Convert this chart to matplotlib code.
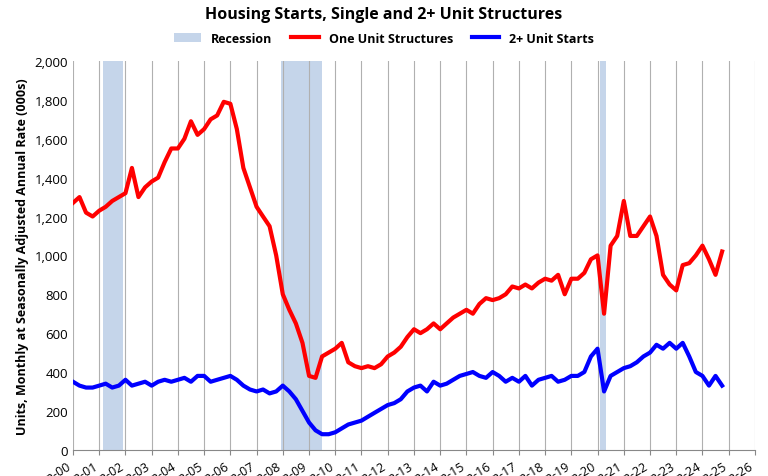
import numpy as np
import matplotlib
matplotlib.use("Agg")
import matplotlib.pyplot as plt
import matplotlib.dates as mdates
import pandas as pd

plt.rcParams['font.family'] = ['Open Sans', 'DejaVu Sans']

# quarterly readings, thousands of units (SAAR), 2000Q1 .. 2024Q4
one_unit = [1270, 1300, 1220, 1200, 1230, 1250, 1280, 1300,
            1320, 1450, 1300, 1350, 1380, 1400, 1480, 1550,
            1550, 1600, 1690, 1620, 1650, 1700, 1720, 1790,
            1780, 1650, 1450, 1350, 1250, 1200, 1150, 1000,
            800, 720, 650, 550, 380, 370, 480, 500,
            520, 550, 450, 430, 420, 430, 420, 440,
            480, 500, 530, 580, 620, 600, 620, 650,
            620, 650, 680, 700, 720, 700, 750, 780,
            770, 780, 800, 840, 830, 850, 830, 860,
            880, 870, 900, 800, 880, 880, 910, 980,
            1000, 700, 1050, 1100, 1280, 1100, 1100, 1150,
            1200, 1100, 900, 850, 820, 950, 960, 1000,
            1050, 980, 900, 1020]
multi_unit = [350, 330, 320, 320, 330, 340, 320, 330,
              360, 330, 340, 350, 330, 350, 360, 350,
              360, 370, 350, 380, 380, 350, 360, 370,
              380, 360, 330, 310, 300, 310, 290, 300,
              330, 300, 260, 200, 140, 100, 80, 80,
              90, 110, 130, 140, 150, 170, 190, 210,
              230, 240, 260, 300, 320, 330, 300, 350,
              330, 340, 360, 380, 390, 400, 380, 370,
              400, 380, 350, 370, 350, 380, 330, 360,
              370, 380, 350, 360, 380, 380, 400, 480,
              520, 300, 380, 400, 420, 430, 450, 480,
              500, 540, 520, 550, 520, 550, 480, 400,
              380, 330, 380, 330]
recessions = [("2001-03-01", "2001-11-30"), ("2007-12-01", "2009-06-30"),
              ("2020-02-01", "2020-04-30")]

dates = pd.date_range("2000-01-01", periods=len(one_unit), freq="QS")

fig = plt.figure(figsize=(7.68, 4.77), dpi=100)
ax = fig.add_axes([0.095, 0.055, 0.888, 0.815])

for i, (a, b) in enumerate(recessions):
    ax.axvspan(pd.Timestamp(a), pd.Timestamp(b), color="#c5d5ea", lw=0,
               label="Recession" if i == 0 else None, zorder=1)
ax.plot(dates, one_unit, color="#ff0000", lw=3, label="One Unit Structures", zorder=3)
ax.plot(dates, multi_unit, color="#0000ff", lw=3, label="2+ Unit Starts", zorder=3)

ax.set_xlim(pd.Timestamp("2000-01-01"), pd.Timestamp("2026-01-01"))
ax.set_ylim(0, 2000)
ax.set_yticks(range(0, 2001, 200))
ax.set_yticklabels([f"{v:,}" for v in range(0, 2001, 200)], fontsize=9.5)
ax.xaxis.set_major_locator(mdates.YearLocator())
ax.xaxis.set_major_formatter(mdates.DateFormatter("Jan-%y"))
plt.setp(ax.get_xticklabels(), rotation=30, ha="right", fontsize=9)
ax.grid(axis="x", color="#b0b0b0", lw=0.8, zorder=0)
for s in ["top", "right", "left"]:
    ax.spines[s].set_visible(False)
ax.spines["bottom"].set_color("#888888")
ax.tick_params(axis="y", length=0)
ax.tick_params(axis="x", color="#888888")
ax.set_ylabel("Units, Monthly at Seasonally Adjusted Annual Rate (000s)",
              fontsize=9, fontweight="bold")

fig.suptitle("Housing Starts, Single and 2+ Unit Structures", y=0.985,
             fontsize=11.5, fontweight="bold")
fig.legend(loc="upper center", bbox_to_anchor=(0.5, 0.955), ncol=3, frameon=False,
           fontsize=9, prop={"weight": "bold", "size": 9}, handlelength=2.2,
           columnspacing=1.5)

fig.savefig("out.png", dpi=100)
